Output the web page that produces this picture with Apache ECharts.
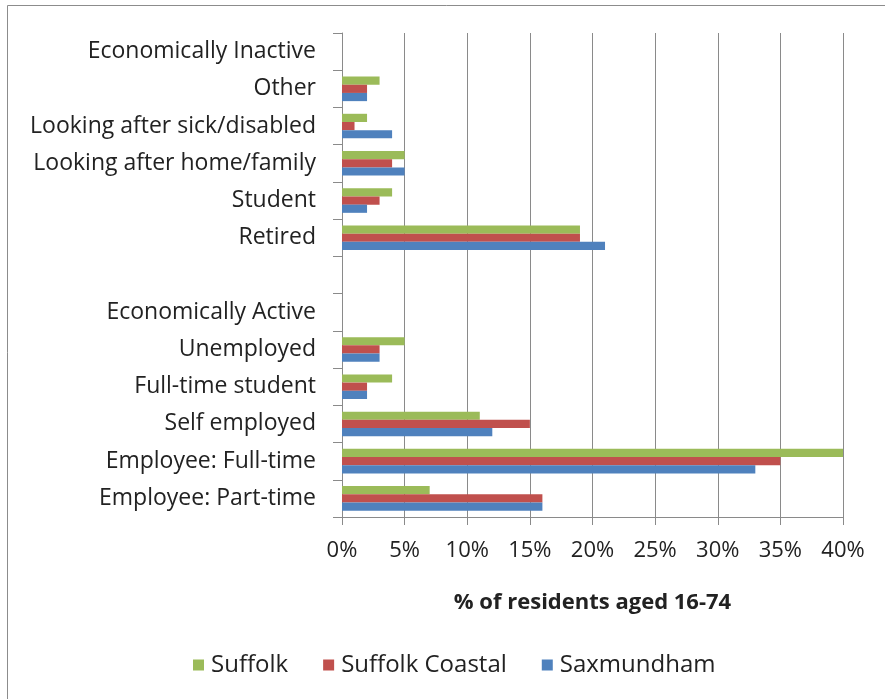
<!DOCTYPE html>
<html>
<head>
<meta charset="utf-8">
<script src="https://cdn.jsdelivr.net/npm/echarts@6/dist/echarts.min.js"></script>
<style>
  html, body { margin: 0; padding: 0; background: #fff; }
  #chart { width: 885px; height: 699px; }
</style>
</head>
<body>
<div id="chart"></div>
<script>
// Economic activity categories, listed bottom-to-top as drawn on the y axis
const categories = [
  'Employee: Part-time',
  'Employee: Full-time',
  'Self employed',
  'Full-time student',
  'Unemployed',
  'Economically Active',
  '',
  'Retired',
  'Student',
  'Looking after home/family',
  'Looking after sick/disabled',
  'Other',
  'Economically Inactive'
];

// Percentages of residents aged 16-74 (heading rows and spacer left empty)
const suffolk        = [7, 40, 11, 4, 5, null, null, 19, 4, 5, 2, 3, null];
const suffolkCoastal = [16, 35, 15, 2, 3, null, null, 19, 3, 4, 1, 2, null];
const saxmundham     = [16, 33, 12, 2, 3, null, null, 21, 2, 5, 4, 2, null];

const seriesNames = ['Suffolk', 'Suffolk Coastal', 'Saxmundham'];
const xTicks = [0, 5, 10, 15, 20, 25, 30, 35, 40];

const FONT = '"Open Sans", "Noto Sans", sans-serif';
const TEXT = '#222';
const GRID = '#8a8a8a';

const chart = echarts.init(document.getElementById('chart'), null, { renderer: 'canvas' });

chart.setOption({
  backgroundColor: '#fff',
  animation: false,
  textStyle: { fontFamily: FONT },
  grid: { left: 342, right: 42, top: 33, bottom: 182, containLabel: false },
  legend: {
    data: seriesNames,
    left: 188,
    top: 648,
    icon: 'rect',
    itemWidth: 11,
    itemHeight: 11,
    itemGap: 35,
    textStyle: { fontFamily: FONT, fontSize: 24, color: TEXT, padding: [0, 0, 0, 2] }
  },
  xAxis: {
    type: 'value',
    min: xTicks[0],
    max: xTicks[xTicks.length - 1],
    interval: 5,
    axisLine: { show: true, lineStyle: { color: GRID, width: 1 } },
    axisTick: { show: true, length: 8, lineStyle: { color: GRID } },
    splitLine: { show: true, lineStyle: { color: GRID, width: 1 } },
    axisLabel: {
      formatter: '{value}%',
      fontFamily: FONT,
      fontSize: 22,
      color: TEXT,
      margin: 23
    },
    name: '% of residents aged 16-74',
    nameLocation: 'middle',
    nameGap: 75,
    nameTextStyle: { fontFamily: FONT, fontSize: 22, fontWeight: 'bold', color: TEXT }
  },
  yAxis: {
    type: 'category',
    data: categories,
    axisLine: { show: true, lineStyle: { color: GRID, width: 1 } },
    axisTick: { show: true, length: 9, lineStyle: { color: GRID } },
    splitLine: { show: false },
    axisLabel: {
      fontFamily: FONT,
      fontSize: 23,
      color: TEXT,
      margin: 26,
      interval: 0
    }
  },
  series: [
    { name: seriesNames[0], type: 'bar', data: suffolk, itemStyle: { color: '#9BBB59' }, barGap: '0%', barCategoryGap: '34%' },
    { name: seriesNames[1], type: 'bar', data: suffolkCoastal, itemStyle: { color: '#C0504D' }, barGap: '0%', barCategoryGap: '34%' },
    { name: seriesNames[2], type: 'bar', data: saxmundham, itemStyle: { color: '#4F81BD' }, barGap: '0%', barCategoryGap: '34%' }
  ],
  graphic: [
    {
      type: 'polyline',
      silent: true,
      shape: { points: [[7.5, 699], [7.5, 5.5], [885, 5.5]] },
      style: { stroke: '#8c8c8c', lineWidth: 1, fill: null }
    }
  ]
});
</script>
</body>
</html>
